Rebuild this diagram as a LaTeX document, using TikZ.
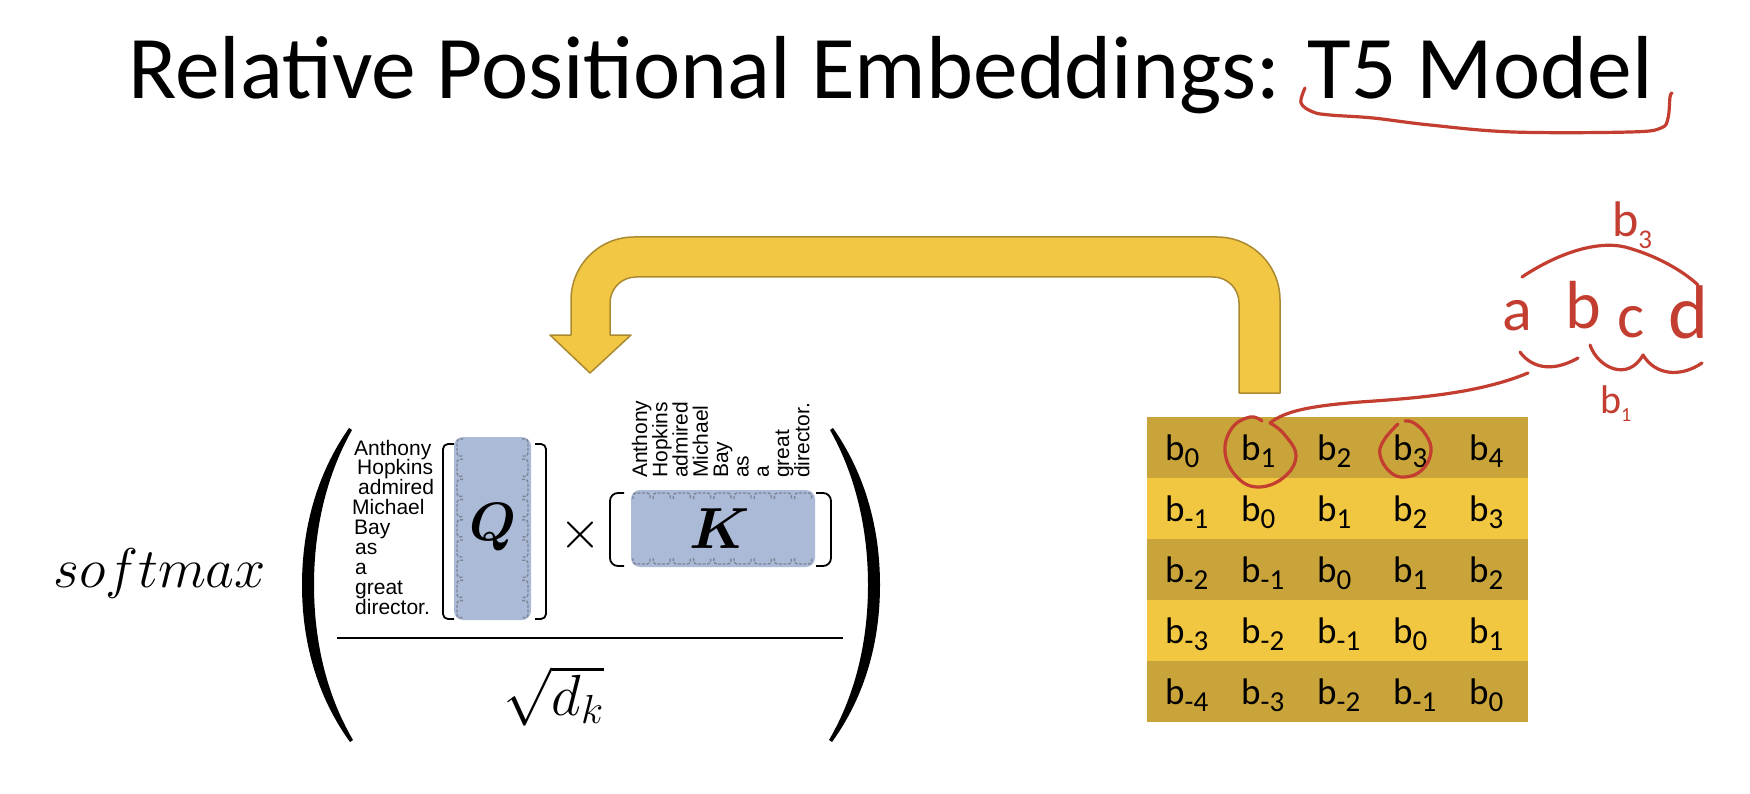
\RequirePackage{fix-cm}
\documentclass[tikz,border=0pt]{standalone}
\usepackage{amsmath}
\usepackage{fontspec}
\setmainfont{Carlito}
\newfontfamily\arialf{Liberation Sans}
\definecolor{arrowfill}{RGB}{242,199,68}
\definecolor{arrowline}{RGB}{170,138,48}
\definecolor{rowdark}{RGB}{201,164,58}
\definecolor{rowlight}{RGB}{241,198,64}
\definecolor{qkblue}{RGB}{171,186,214}
\definecolor{cellgray}{RGB}{125,132,150}
\definecolor{redink}{RGB}{195,62,48}
\newcommand\bsub[1]{b{\fontsize{29}{29}\selectfont\raisebox{-7pt}{#1}}}
\tikzset{
  ink/.style={draw=redink, line width=3.2pt, line cap=round, line join=round},
  word/.style={font=\arialf\fontsize{21}{21}\selectfont, inner sep=0, anchor=base west},
  vword/.style={font=\arialf\fontsize{21}{21}\selectfont, inner sep=0, anchor=base west, rotate=90},
  cell/.style={font=\fontsize{37}{37}\selectfont, inner sep=0, anchor=base west},
  bracket/.style={draw=black, line width=1.8pt, rounded corners=5pt},
  dcell/.style={draw=cellgray, line width=1.4pt, dash pattern=on 3pt off 1.5pt, rounded corners=3pt},
  inktext/.style={text=redink, inner sep=0, anchor=base west},
  mathbig/.style={font=\fontsize{56}{60}\selectfont, inner sep=0},
}
\begin{document}
\begin{tikzpicture}[x=1pt,y=-1pt]
\useasboundingbox (0,0) rectangle (1750,794);
\fill[white] (0,0) rectangle (1750,794);

% title
\node[anchor=base west, inner sep=0, font=\fontsize{89.5}{100}\selectfont] (title) at (128,99) {Relative Positional Embeddings: T5 Model};

% softmax
\node[mathbig, anchor=base west] (softmax) at (53,587) {$softmax$};

% big parentheses
\fill (349,428) .. controls (316,475) and (302,530) .. (302,585) .. controls (302,640) and (316,695) .. (350,742)
  -- (353,740) .. controls (326,694) and (314,640) .. (314,585) .. controls (314,530) and (326,476) .. (352,430) -- cycle;
\fill (833,428) .. controls (866,475) and (880,530) .. (880,585) .. controls (880,640) and (866,695) .. (832,742)
  -- (829,740) .. controls (856,694) and (868,640) .. (868,585) .. controls (868,530) and (856,476) .. (830,430) -- cycle;

% fraction bar and denominator
\draw[line width=2.6pt] (337,638) -- (843,638);
\node[font=\fontsize{58}{60}\selectfont, inner sep=0, anchor=base west] (den) at (503,715) {$\sqrt{d_k}$};

% Q matrix
\node[fill=qkblue, rounded corners=9pt, minimum width=77pt, minimum height=183pt, inner sep=0] (Qbox) at (492.5,528.5) {};
\foreach \r in {0,...,8}{
  \pgfmathsetmacro\ya{439+\r*20.2}
  \pgfmathsetmacro\yb{\ya+17}
  \draw[dcell] (463,\ya) -- (457,\ya) -- (457,\yb) -- (463,\yb);
  \draw[dcell] (522,\ya) -- (528,\ya) -- (528,\yb) -- (522,\yb);
}
\draw[bracket] (454,444) -- (443,444) -- (443,619) -- (454,619);
\draw[bracket] (535,444) -- (546,444) -- (546,619) -- (535,619);
\node[font=\fontsize{54}{58}\selectfont, inner sep=0] (Q) at (493,527) {$\boldsymbol{Q}$};

\foreach \w/\x [count=\i from 0] in {Anthony/354,Hopkins/357,admired/358,Michael/352,Bay/354,as/355,a/355,great/355,director./355}{
  \node[word] (qw\i) at (\x,{455+19.9*\i}) {\w};
}

% times
\node[font=\fontsize{54}{58}\selectfont, inner sep=0] (times) at (580,535) {$\times$};

% K matrix
\node[fill=qkblue, rounded corners=9pt, minimum width=184pt, minimum height=77pt, inner sep=0] (Kbox) at (723,528.5) {};
\foreach \c in {0,...,8}{
  \pgfmathsetmacro\xa{633+\c*20.2}
  \pgfmathsetmacro\xb{\xa+17}
  \draw[dcell] (\xa,499) -- (\xa,493) -- (\xb,493) -- (\xb,499);
  \draw[dcell] (\xa,558) -- (\xa,564) -- (\xb,564) -- (\xb,558);
}
\draw[bracket, rounded corners=8pt] (624,493) -- (610,493) -- (610,566) -- (624,566);
\draw[bracket, rounded corners=8pt] (816,493) -- (831,493) -- (831,566) -- (816,566);
\node[font=\fontsize{58}{62}\selectfont, inner sep=0] (K) at (720,529) {$\boldsymbol{K}$};

\foreach \w [count=\i from 0] in {Anthony,Hopkins,admired,Michael,Bay,as,a,great,director.}{
  \node[vword] (kw\i) at ({647+20.3*\i},478) {\w};
}

% yellow arrow
\coordinate (arrowstart) at (1259.5,393);
\coordinate (arrowtip) at (590,373);
\draw[fill=arrowfill, draw=arrowline, line width=1.5pt, line join=round]
  (1280,393) -- (1280,300) .. controls (1280,265.2) and (1251.8,237) .. (1217,237)
  -- (634,237) .. controls (599.2,237) and (571,265.2) .. (571,300)
  -- (571,335) -- (550,335) -- (arrowtip) -- (631,335) -- (610,335)
  -- (610,303) .. controls (610,288.6) and (621.6,277) .. (636,277)
  -- (1213,277) .. controls (1227.4,277) and (1239,288.6) .. (1239,303)
  -- (1239,393) -- cycle;

% bias table
\foreach \r/\col in {0/rowdark,1/rowlight,2/rowdark,3/rowlight,4/rowdark}{
  \fill[\col] (1147,{417+61*\r}) rectangle (1528,{478+61*\r});
}
\foreach \r in {0,...,4}{
  \foreach \c in {0,...,4}{
    \pgfmathtruncatemacro\v{\c-\r}
    \node[cell] (c-\r-\c) at ({1165+76*\c},{460+61*\r}) {\bsub{\v}};
  }
}

% red annotations
\draw[ink] plot[smooth, tension=0.6] coordinates {(1305,88) (1301,103) (1313,112) (1330,115) (1373,118) (1430,125) (1513,132) (1630,132) (1661,128) (1668,118) (1670,97) (1672,93)};

\node[inktext, font=\fontsize{62}{62}\selectfont] (la) at (1502,330) {a};
\node[inktext, font=\fontsize{68}{68}\selectfont] (lb) at (1565,328) {b};
\node[inktext, font=\fontsize{64}{64}\selectfont] (lc) at (1617,337) {c};
\node[inktext, font=\fontsize{76}{76}\selectfont] (ld) at (1668,338) {d};
\node[inktext, font=\fontsize{50}{50}\selectfont] (lb3) at (1612,237) {b{\fontsize{27}{27}\selectfont\raisebox{-12pt}{3}}};
\node[inktext, font=\fontsize{40}{40}\selectfont] (lb1) at (1600,413) {b{\fontsize{20}{20}\selectfont\raisebox{-8pt}{1}}};

\draw[ink] (1522,277) .. controls (1555,255) and (1595,240) .. (1625,247) .. controls (1655,255) and (1682,270) .. (1698,285);
\draw[ink] (1520,352) .. controls (1530,366) and (1550,374) .. (1578,358);
\draw[ink] (1590,345) .. controls (1598,368) and (1628,382) .. (1643,355);
\draw[ink] (1643,355) .. controls (1655,375) and (1680,378) .. (1702,363);

\coordinate (inkstart) at (1528,373);
\coordinate (loopa) at (1270,423);
\draw[ink] (inkstart) .. controls (1480,393) and (1420,398) .. (1360,402) .. controls (1310,406) and (1285,411) .. (loopa);
\draw[ink] plot[smooth, tension=0.7] coordinates {(1270,423) (1284,434) (1296,456) (1283,478) (1257,487) (1236,476) (1225,452) (1232,428) (1250,417) (1262,421)};
\draw[ink] plot[smooth, tension=0.7] coordinates {(1398,424) (1384,440) (1380,455) (1390,472) (1405,477) (1422,470) (1431,452) (1426,435) (1414,423) (1405,421)};
\end{tikzpicture}
\end{document}
